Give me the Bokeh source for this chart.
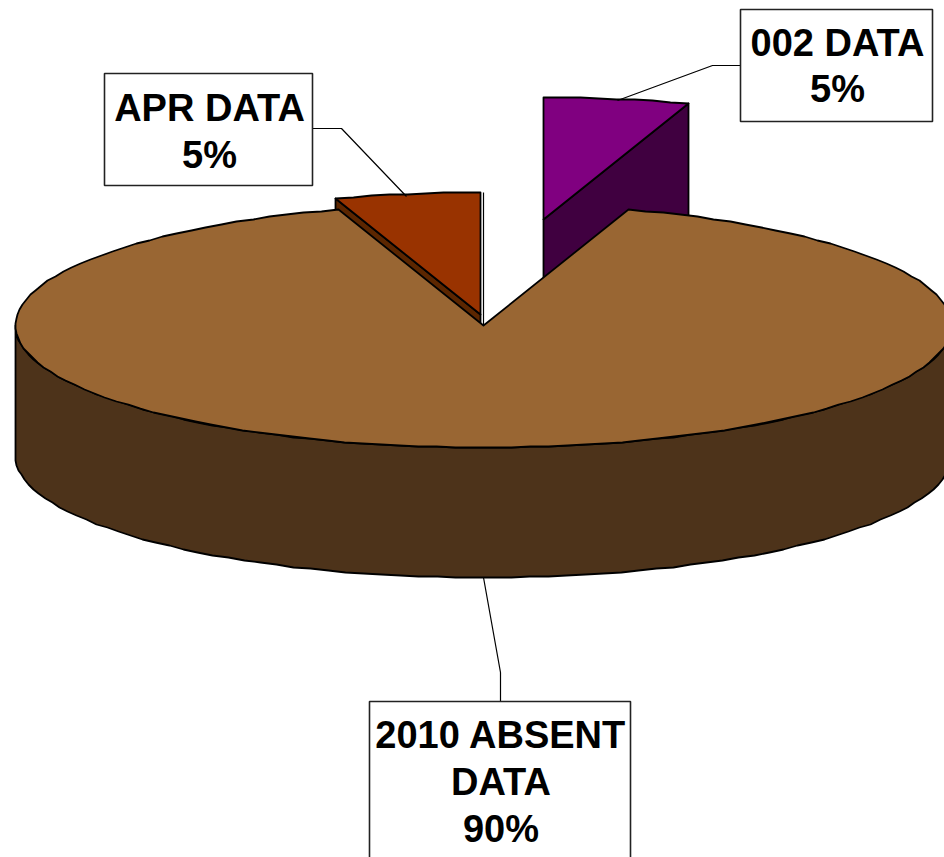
import numpy as np
from bokeh.plotting import figure
from bokeh.embed import file_html
from bokeh.resources import INLINE
from bokeh.core.properties import value
from bokeh.models import Range1d

# ---- data
categories = ["002 DATA", "2010 ABSENT DATA", "APR DATA"]
shares = [5, 90, 5]
label_lines = [["002 DATA", "5%"], ["2010 ABSENT", "DATA", "90%"], ["APR DATA", "5%"]]

# ---- colours
top_colors = ["#800080", "#996633", "#993300"]
wall_colors = ["#400040", "#4D331A", "#5C2600"]

# ---- 3D projection
W, H = 944, 857
CX, CY, A, B, DEPTH = 483.0, 325.0, 468.0, 122.0, 130.0
offsets = [(60.0, -106.0), (0.0, 0.0), (-3.0, -11.0)]
STEP = 0.04  # angular step of the faceted rim, radians


def pt(theta, ox=0.0, oy=0.0, z=0.0):
    theta = np.asarray(theta, dtype=float)
    return np.round(CX + ox + A * np.sin(theta)), np.round(CY + oy - B * np.cos(theta) + z)


def arc(t0, t1):
    n = max(2, int(round((t1 - t0) / STEP)) + 1)
    return np.linspace(t0, t1, n)


bounds = np.cumsum([0] + shares) / sum(shares) * 2 * np.pi

p = figure(width=W, height=H, output_backend="svg", toolbar_location=None,
           x_range=Range1d(0, W), y_range=Range1d(H, 0),
           x_axis_location=None, y_axis_location=None, min_border=0,
           outline_line_color=None, background_fill_color="white",
           styles={"position": "absolute", "left": "0px", "top": "0px"})
p.grid.visible = False
EDGE = dict(line_color="black", line_width=1.8, line_join="round")


def top_face(i):
    t = arc(bounds[i], bounds[i + 1])
    ox, oy = offsets[i]
    x, y = pt(t, ox, oy)
    return [CX + ox, *x], [CY + oy, *y]


def radial_wall(i, theta):
    ox, oy = offsets[i]
    x0, y0 = CX + ox, CY + oy
    x1, y1 = pt(theta, ox, oy)
    return [x0, x1, x1, x0], [y0, y1, y1 + DEPTH, y0 + DEPTH]


# exploded slices, which the big slice overlaps
for i, theta in ((0, bounds[1]), (2, bounds[2])):
    xs, ys = radial_wall(i, theta)
    p.patch(xs, ys, fill_color=wall_colors[i], **EDGE)
    xs, ys = top_face(i)
    p.patch(xs, ys, fill_color=top_colors[i], **EDGE)

# cut face of the APR slice, seen edge on
p.line([CX, CX], [CY + offsets[2][1] - B, CY], line_color="black", line_width=1.2)

# big slice: outer wall and top
t = arc(np.pi / 2, 3 * np.pi / 2)
xb, yb = pt(t)
xd, yd = pt(t, z=DEPTH)
p.patch([*xb, *xd[::-1]], [*yb, *yd[::-1]], fill_color=wall_colors[1], **EDGE)
xs, ys = top_face(1)
p.patch(xs, ys, fill_color=top_colors[1], **EDGE)

# leader lines
leaders = [([740, 712, 617], [65, 65, 100]),
           ([500, 500, 483], [701, 672, 577]),
           ([312, 341, 406], [128, 128, 196])]
for lx, ly in leaders:
    p.line(lx, ly, line_color="black", line_width=1.2)

# label boxes and texts
boxes = [(740, 932, 9, 121), (369, 630, 701, 900), (104, 312, 73, 185)]
first_baseline = [42.0, 734.8, 107.5]
LINE_STEP = 46.8
for (l, r, t0, b0), lines, base in zip(boxes, label_lines, first_baseline):
    p.quad(left=l, right=r, top=t0, bottom=b0, fill_color="white",
           line_color="#222222", line_width=1.6)
    for k, s in enumerate(lines):
        p.text([(l + r) / 2 + 1], [base + k * LINE_STEP], text=[s], text_align="center",
               text_baseline="alphabetic", text_color="black",
               text_font=value("Liberation Sans"), text_font_style="bold",
               text_font_size="38px")

open("out.html", "w").write(file_html(p, INLINE))
